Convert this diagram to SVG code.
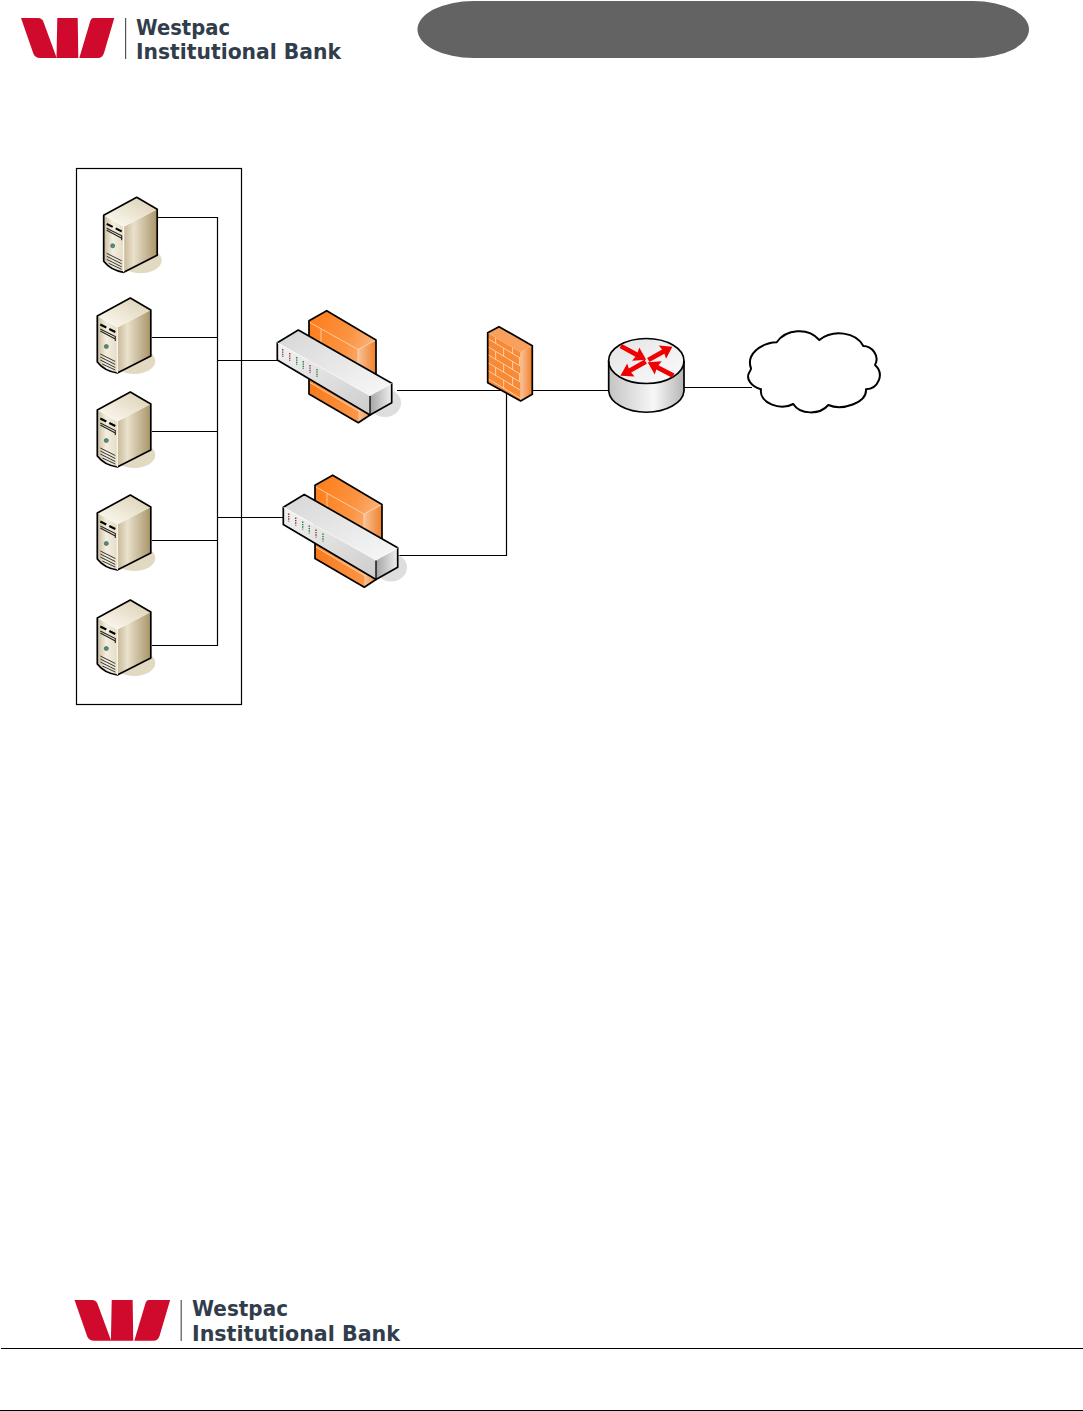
<svg xmlns="http://www.w3.org/2000/svg" width="1083" height="1411" viewBox="0 0 1083 1411">
<style>
.conn{fill:none;stroke:#000;stroke-width:1.2}
.edge{stroke:#000;stroke-width:1.3;stroke-linejoin:round}
.bold{fill:none;stroke:#000;stroke-width:1.7;stroke-linejoin:round}
.logo{font-family:"DejaVu Sans","Liberation Sans",sans-serif;font-weight:700;font-size:20.5px;fill:#313d4b}
.red{fill:#cf0a2c}
.brick{stroke:#fbe0c4;stroke-width:.8;fill:none}
.led{fill:none;stroke-width:1.4;stroke-dasharray:1.4 1}
.ledr{stroke:#8d3a46}.ledg{stroke:#2f7f3a}
.sv{fill:none;stroke:#222;stroke-width:.9}
</style>
<defs>
<linearGradient id="srvR" x1="0" x2="1" y1="0" y2="0"><stop offset="0" stop-color="#c8b998"/><stop offset=".3" stop-color="#e9e1cc"/><stop offset="1" stop-color="#a89469"/></linearGradient>
<linearGradient id="srvT" x1="0" x2="1" y1="1" y2="0"><stop offset="0" stop-color="#fffdf6"/><stop offset="1" stop-color="#d9ceb0"/></linearGradient>
<linearGradient id="srvL" x1="0" x2="1" y1="0" y2="0"><stop offset="0" stop-color="#c9bc9c"/><stop offset=".45" stop-color="#f3eee0"/><stop offset="1" stop-color="#e5dcc5"/></linearGradient>
<linearGradient id="orF" x1="0" x2="1" y1="0" y2=".6"><stop offset="0" stop-color="#ff7b16"/><stop offset=".55" stop-color="#fb9443"/><stop offset="1" stop-color="#f9c59c"/></linearGradient>
<linearGradient id="orR" x1="0" x2="1" y1="0" y2="0"><stop offset="0" stop-color="#f8c197"/><stop offset="1" stop-color="#f0802a"/></linearGradient>
<linearGradient id="orS" x1="0" x2="1" y1="0" y2="0"><stop offset="0" stop-color="#f77a1a"/><stop offset="1" stop-color="#fb9648"/></linearGradient>
<linearGradient id="swT" x1="0" x2="1" y1="0" y2="1"><stop offset="0" stop-color="#d6d6d6"/><stop offset="1" stop-color="#f8f8f8"/></linearGradient>
<linearGradient id="swF" x1="0" x2="1" y1="0" y2="1"><stop offset="0" stop-color="#f2f2f2"/><stop offset="1" stop-color="#cdcdcd"/></linearGradient>
<linearGradient id="swR" x1="0" x2="1" y1="0" y2="0"><stop offset="0" stop-color="#a5a5a5"/><stop offset="1" stop-color="#efefef"/></linearGradient>
<linearGradient id="rtS" x1="0" x2="1" y1="0" y2="0"><stop offset="0" stop-color="#c4c4c4"/><stop offset=".6" stop-color="#f7f7f7"/><stop offset="1" stop-color="#b5b5b5"/></linearGradient>
<linearGradient id="rtT" x1="0" x2="1" y1="0" y2="1"><stop offset="0" stop-color="#e4e4e4"/><stop offset="1" stop-color="#fbfbfb"/></linearGradient>
<polygon id="arrow" points="0,-2.4 18,-2.4 17,-7.5 29,0 17,7.5 18,2.4 0,2.4" fill="#f00000"/>
<g id="server">
<ellipse cx="4" cy="63" rx="21" ry="13" fill="#e1d9c1"/>
<path d="M-33,18 L-13,29.5 L-13,75 Q-26,73 -33,64 Z" fill="url(#srvL)"/>
<path d="M-13,29.5 L20.5,12 L20.5,58 L-13,75 Z" fill="url(#srvR)"/>
<path d="M-33,18 L0,0 L20.5,12 L-13,29.5 Z" fill="url(#srvT)"/>
<path d="M-33,18 L0,0 L20.5,12 L20.5,58 L-13,75 Q-26,73 -33,64 Z" class="bold"/>
<path d="M-13,29.5 V75" stroke="#fff" stroke-width="1"/>
<path d="M-30,26.5 L-24,29.5 M-21,31 L-15,34" stroke="#000" stroke-width="2"/>
<path d="M-30,31 L-15,38.5 V43 M-30,33 L-15,41" fill="none" stroke="#222" stroke-width="1.1"/>
<circle cx="-24" cy="48.5" r="2" fill="#3f9a80" stroke="#444" stroke-width=".6"/>
<path d="M-30,56 L-15,63.5 M-30,59 L-15,66.5 M-30,62 L-15,69.5 M-28,66 L-15,72" class="sv"/>
</g>
<g id="switchwall">
<ellipse cx="385" cy="403" rx="16" ry="14" fill="#dedede"/>
<path d="M309,320.7 L326.7,310.7 L376,340 L376,404 L370,415 L358.3,422.7 L309,394 Z" fill="url(#orF)"/>
<path d="M358,349.5 L376,340 V404 L370,415 L358.3,422.7 Z" fill="url(#orR)"/>
<path d="M309,381.7 L358.3,410 L358.3,422.7 L309,394 Z" fill="url(#orS)"/>
<path d="M309,322 L358,349.5 L376,340 M321,329 V345 M358,349.5 V370 M309,382 L358.3,411 L370,405" fill="none" stroke="#fbdcbd" stroke-width=".8"/>
<path d="M309,320.7 L326.7,310.7 L376,340 L376,404 L370,415 L358.3,422.7 L309,394 Z" class="bold"/>
<path d="M277.3,342.7 L298.3,330 L391.7,383.3 L370,395.7 Z" fill="url(#swT)"/>
<path d="M277.3,342.7 L370,395.7 L370,415 L277.3,360 Z" fill="url(#swF)"/>
<path d="M370,395.7 L391.7,383.3 L391.7,402.7 L370,415 Z" fill="url(#swR)"/>
<path d="M277.3,342.7 L298.3,330 L391.7,383.3 L391.7,402.7 L370,415 L277.3,360 Z" class="bold"/>
<path d="M370,395.7 V415" class="edge" fill="none"/>
<path d="M277.3,342.7 L370,395.7 L391.7,383.3" fill="none" stroke="#fff" stroke-width=".8"/>
<path d="M282.7,349 v8" class="led ledr"/><path d="M289.7,353 v8" class="led ledr"/>
<path d="M296.7,357 v8" class="led ledg"/><path d="M303.3,361 v8" class="led ledg"/>
<path d="M310,365 v8" class="led ledr"/><path d="M317,369 v8" class="led ledg"/>
</g>
<g id="wmark">
<path d="M21,18 H38 Q42,18 43.5,22 L56.7,58 H40 Q35.5,58 33.5,54 Z" class="red"/>
<path d="M57.3,18 H77.7 L78.3,58 H56.5 Z" class="red"/>
<path d="M93.5,18 H114.3 L104,53 Q102.5,58 98,58 H79.3 L90,22 Q91,18 93.5,18 Z" class="red"/>
</g>
</defs>

<g id="logo-top">
<use href="#wmark"/>
<rect x="125" y="18" width="1.2" height="41" fill="#555"/>
<text class="logo" x="136" y="34.5" textLength="94" lengthAdjust="spacingAndGlyphs">Westpac</text>
<text class="logo" x="136" y="58.7" textLength="205" lengthAdjust="spacingAndGlyphs">Institutional Bank</text>
</g>
<rect id="banner" x="417.5" y="1" width="611.5" height="57" rx="56" ry="28.5" fill="#636363"/>

<rect id="server-box" x="76.5" y="168.5" width="165" height="536" fill="none" stroke="#000" stroke-width="1.2"/>

<g id="connectors">
<path class="conn" d="M158,217.5 H217.5 V645.5 H152"/>
<path class="conn" d="M152,337.5 H217.5 M152,431.5 H217.5 M152,540.5 H217.5"/>
<path class="conn" d="M217.5,360.5 H277 M217.5,517.5 H283"/>
<path class="conn" d="M397,390.5 H506.5 V555.5 H398"/>
<path class="conn" d="M506,390.5 H609 M684,387.5 H752"/>
</g>

<g id="server-1"><use href="#server" transform="translate(136.7,197.3)"/></g>
<g id="server-2"><use href="#server" transform="translate(130.3,298)"/></g>
<g id="server-3"><use href="#server" transform="translate(130.3,392)"/></g>
<g id="server-4"><use href="#server" transform="translate(130.3,495)"/></g>
<g id="server-5"><use href="#server" transform="translate(130.3,600)"/></g>

<g id="switch-1"><use href="#switchwall"/></g>
<g id="switch-2"><use href="#switchwall" transform="translate(6,164.5)"/></g>

<g id="firewall">
<path d="M487.7,332.7 L520.7,352.3 V401 L487.7,382.7 Z" fill="#f98a35"/>
<path d="M487.7,332.7 L499,326.7 L532.3,345.7 L520.7,352.3 Z" fill="#f9a05c"/>
<path d="M520.7,352.3 L532.3,345.7 V394.3 L520.7,401 Z" fill="url(#orR)"/>
<g class="brick" transform="matrix(1 .594 0 1 487.7 332.7)">
<path d="M0,6 H33 M0,14 H33 M0,22 H33 M0,30 H33 M0,38 H33 M0,46 H33"/>
<path d="M8,0 V6 M25,0 V6 M16,6 V14 M32,6 V14 M8,14 V22 M25,14 V22 M16,22 V30 M32,22 V30 M8,30 V38 M25,30 V38 M16,38 V46"/>
</g>
<path d="M487.7,332.7 L499,326.7 L532.3,345.7 V394.3 L520.7,401 L487.7,382.7 Z" class="bold"/>
</g>

<g id="router">
<path d="M608.7,361 V391 A37.7,22.4 0 0 0 684,391 V361 Z" fill="url(#rtS)"/>
<ellipse cx="646.3" cy="361" rx="37.7" ry="22.5" fill="url(#rtT)"/>
<path d="M608.7,361 V391 A37.7,22.4 0 0 0 684,391 V361" class="bold"/>
<ellipse cx="646.3" cy="361" rx="37.7" ry="22.5" class="bold"/>
<use href="#arrow" transform="translate(620.7,346) rotate(28.3)"/>
<use href="#arrow" transform="translate(648.3,360) rotate(-29) scale(.95 1)"/>
<use href="#arrow" transform="translate(645.7,361.7) rotate(150.8)"/>
<use href="#arrow" transform="translate(673.3,375.7) rotate(207.8)"/>
</g>

<g id="cloud">
<path d="M761,389.3 C752,387 745,379 749.5,372 Q751,370 751,368.3 C746,355 760,343 776.7,342.3 C786,329 808,327 819.3,340 C833,329 856,332 863.3,346 C872,346 880,356 875,365 C885,374 878,389 866,389.3 C867,403 842,411 828.3,405 C820,415 800,415 793.3,404 C780,411 759,403 761,389.3 Z" fill="#fff" stroke="#000" stroke-width="2" stroke-linejoin="round"/>
</g>

<g id="logo-bottom">
<use href="#wmark" transform="translate(53,1281.6) scale(1.025 1.02)"/>
<rect x="180.6" y="1300" width="1.2" height="41" fill="#555"/>
<text class="logo" x="192" y="1316" textLength="96" lengthAdjust="spacingAndGlyphs">Westpac</text>
<text class="logo" x="192" y="1340.7" textLength="208" lengthAdjust="spacingAndGlyphs">Institutional Bank</text>
</g>

<g id="footer-rules">
<path d="M1,1348.5 H1083 M0,1410.5 H1083" fill="none" stroke="#000" stroke-width="1.2"/>
</g>
</svg>
